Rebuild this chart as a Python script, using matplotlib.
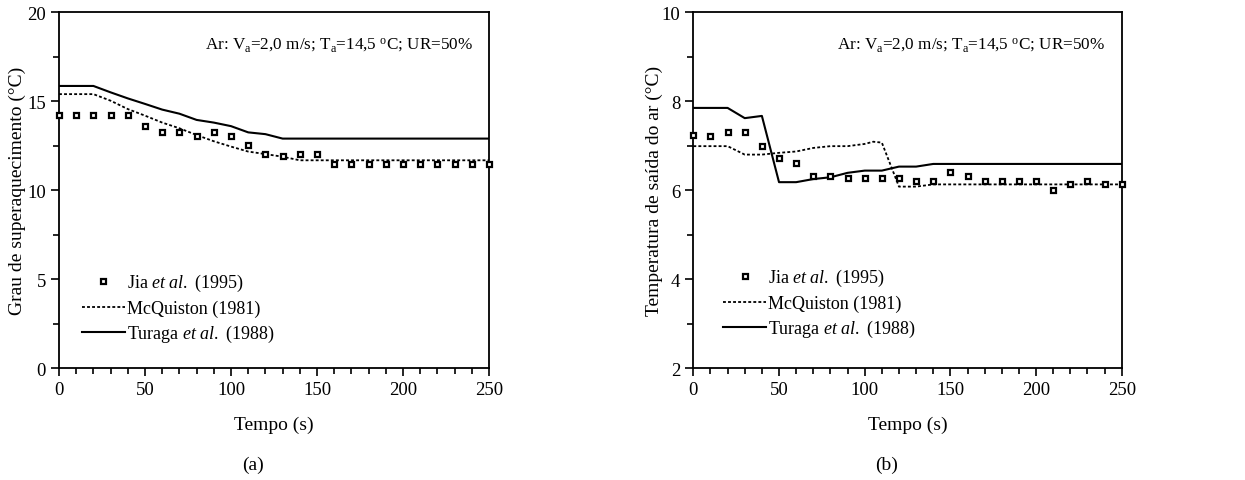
import numpy as np
import matplotlib
matplotlib.use("Agg")
import matplotlib.pyplot as plt
from matplotlib.ticker import MultipleLocator

plt.rcParams['font.family'] = ['Liberation Serif', 'DejaVu Serif']
plt.rcParams['mathtext.fontset'] = 'custom'
plt.rcParams['mathtext.rm'] = 'Liberation Serif'
plt.rcParams['mathtext.it'] = 'Liberation Serif:italic'

# Time axis (s)
t_jia = list(range(0, 251, 10))

# (a) Superheat degree (°C)
jia_a = [14.2, 14.2, 14.2, 14.2, 14.2, 13.63, 13.25, 13.25, 13.05, 13.25,
         13.05, 12.54, 12.03, 11.9, 12.03, 12.03, 11.49, 11.49, 11.49, 11.49,
         11.49, 11.49, 11.49, 11.49, 11.49, 11.49]
t_mcq_a = [0, 20, 30, 40, 50, 60, 70, 80, 90, 100, 110, 120, 130, 140, 250]
mcq_a = [15.4, 15.4, 15.03, 14.56, 14.19, 13.8, 13.48, 13.1, 12.75, 12.45,
         12.17, 12.03, 11.88, 11.68, 11.68]
t_tur_a = [0, 20, 30, 40, 50, 60, 70, 80, 90, 100, 110, 120, 130, 250]
tur_a = [15.86, 15.86, 15.5, 15.16, 14.85, 14.53, 14.3, 13.95, 13.8, 13.6,
         13.25, 13.15, 12.9, 12.9]

# (b) Air outlet temperature (°C)
jia_b = [7.25, 7.21, 7.3, 7.3, 7.0, 6.72, 6.6, 6.31, 6.31, 6.27,
         6.27, 6.27, 6.27, 6.21, 6.21, 6.4, 6.31, 6.21, 6.21, 6.21,
         6.21, 6.0, 6.15, 6.21, 6.15, 6.15]
t_mcq_b = [0, 20, 30, 40, 50, 60, 70, 80, 90, 100, 105, 110, 120, 130, 140, 250]
mcq_b = [6.99, 6.99, 6.8, 6.8, 6.84, 6.87, 6.95, 6.99, 6.99, 7.04, 7.09,
         7.07, 6.08, 6.08, 6.13, 6.13]
t_tur_b = [0, 20, 30, 40, 50, 60, 70, 80, 90, 100, 110, 120, 130, 140, 250]
tur_b = [7.85, 7.85, 7.62, 7.67, 6.18, 6.18, 6.25, 6.29, 6.39, 6.44, 6.44,
         6.53, 6.53, 6.59, 6.59]

labels = [r"Jia $\mathit{et\ al.}$ (1995)", "McQuiston (1981)",
          r"Turaga $\mathit{et\ al.}$ (1988)"]
note = r"Ar: V$_\mathrm{a}$=2,0 m/s; T$_\mathrm{a}$=14,5 $^\mathrm{o}$C; UR=50%"

fig = plt.figure(figsize=(12.45, 4.81), dpi=100)
ax1 = fig.add_axes([0.0474, 0.2328, 0.3454, 0.7395])
ax2 = fig.add_axes([0.5569, 0.2328, 0.3441, 0.7395])

FS_TICK = 13.5
FS_LAB = 14
FS_LEG = 13
FS_NOTE = 12.3


def draw(ax, jia, tm, mcq, tt, tur, ylim, ymaj, ymin, ylabel, panel,
         leg_xy, ylab_x):
    h1, = ax.plot(t_jia, jia, linestyle='none', marker='s', markersize=3.6,
                  markerfacecolor='white', markeredgecolor='black',
                  markeredgewidth=1.6, zorder=4, clip_on=False)
    h2, = ax.plot(tm, mcq, color='black', linestyle=(0, (1.6, 1.2)),
                  linewidth=1.3, zorder=3)
    h3, = ax.plot(tt, tur, color='black', linestyle='-', linewidth=1.5,
                  zorder=3)
    ax.set_xlim(0, 250)
    ax.set_ylim(*ylim)
    ax.xaxis.set_major_locator(MultipleLocator(50))
    ax.xaxis.set_minor_locator(MultipleLocator(10))
    ax.yaxis.set_major_locator(MultipleLocator(ymaj))
    ax.yaxis.set_minor_locator(MultipleLocator(ymin))
    ax.tick_params(which='both', direction='out', top=False, right=False,
                   labelsize=FS_TICK, width=1.2)
    ax.tick_params(which='major', length=6)
    ax.tick_params(which='minor', length=4)
    for s in ax.spines.values():
        s.set_linewidth(1.3)
    ax.set_xlabel("Tempo (s)", fontsize=FS_LAB)
    ax.xaxis.set_label_coords(0.5, -0.135)
    ax.set_ylabel(ylabel, fontsize=FS_LAB)
    ax.yaxis.set_label_coords(ylab_x, 0.5)
    ax.text(0.962, 0.91, note, transform=ax.transAxes, ha='right',
            va='center', fontsize=FS_NOTE)
    ax.text(0.45, -0.27, panel, transform=ax.transAxes, ha='center',
            va='center', fontsize=FS_LAB)
    ax.legend([h1, h2, h3], labels, loc='center left',
              bbox_to_anchor=leg_xy, frameon=False, fontsize=FS_LEG,
              handlelength=2.4, handletextpad=0.1, borderpad=0,
              borderaxespad=0, labelspacing=0.35)


draw(ax1, jia_a, t_mcq_a, mcq_a, t_tur_a, tur_a, (0, 20), 5, 2.5,
     "Grau de superaquecimento (°C)", "(a)", (0.053, 0.168), -0.077)
draw(ax2, jia_b, t_mcq_b, mcq_b, t_tur_b, tur_b, (2, 10), 2, 1,
     "Temperatura de saída do ar (°C)", "(b)", (0.069, 0.182), -0.071)

fig.savefig("out.png", dpi=100)
